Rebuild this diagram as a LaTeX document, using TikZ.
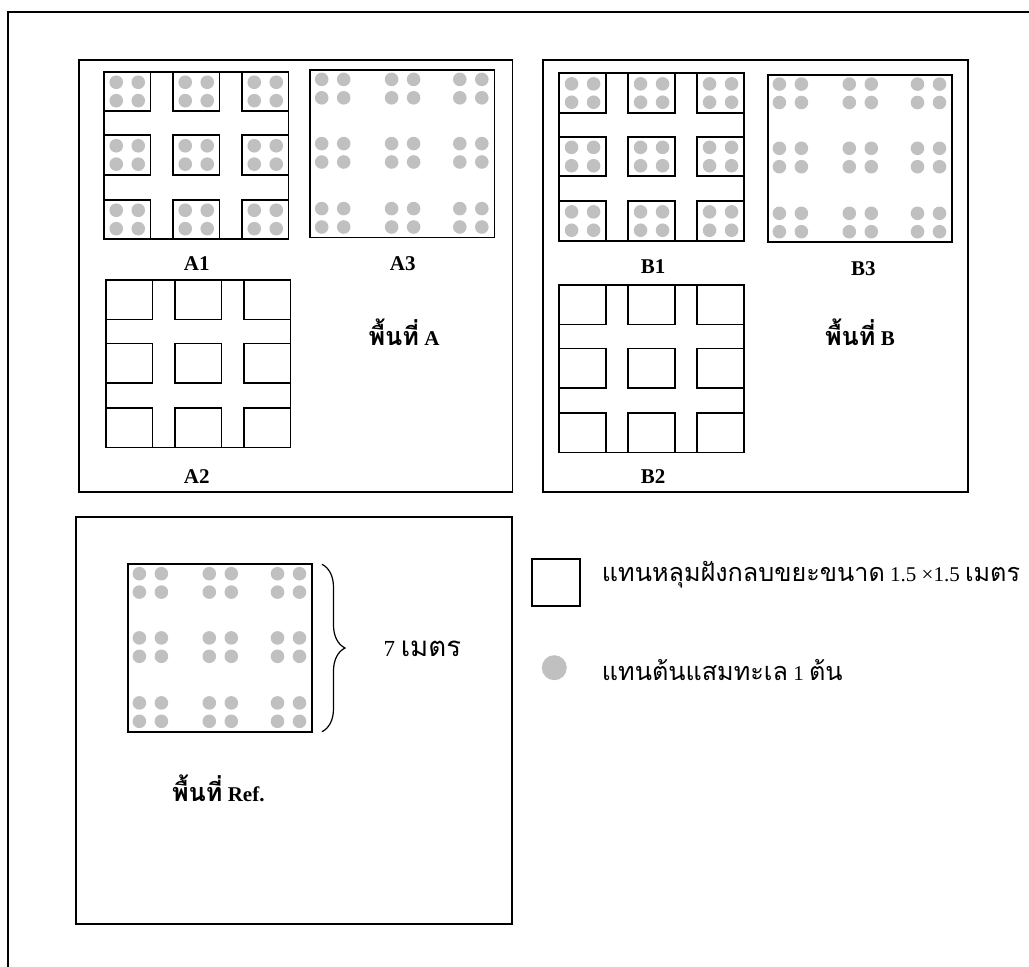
\documentclass[tikz,border=0pt]{standalone}
\usepackage{fontspec}
\setmainfont{Liberation Serif}
\newfontfamily\thaifont[Script=Thai,Scale=1.2]{Loma}
\usetikzlibrary{decorations.pathreplacing}
\definecolor{dotgray}{RGB}{192,192,192}
\tikzset{
  frame/.style={draw=black, line width=1.7pt},
  pit/.style={draw=black, line width=1.9pt},
  tree/.style={fill=dotgray},
  lbl/.style={font=\fontsize{21}{25}\selectfont\bfseries, anchor=base, inner sep=0pt},
  thailbl/.style={font=\fontsize{21}{25}\selectfont, anchor=base west, inner sep=0pt},
}
\newcommand\treequad[2]{%
  \foreach \dx in {-11,11}{\foreach \dy in {-9.2,9.2}{%
    \fill[tree] ({#1+(\dx)},{-(#2)-(\dy)}) circle (6.8);}}}
\newcommand\pitgrid[3]{% x0, y0, with trees (1/0)
  \draw[pit] (#1,-#2) rectangle ++(184.5,-167.5);
  \foreach \cx in {0,69,138}{\foreach \cy in {0,63.5,128}{%
    \draw[pit,fill=white] ({#1+\cx},{-(#2)-\cy}) rectangle ++(46.5,-39.5);
    \ifnum#3=1 \treequad{#1+\cx+23.25}{#2+\cy+19.75}\fi
  }}}
\newcommand\treegrid[2]{% x0, y0
  \draw[pit] (#1,-#2) rectangle ++(184.5,-167.5);
  \foreach \gx in {22.7,92.6,160.8}{\foreach \gy in {18.6,82.8,147.8}{%
    \treequad{#1+\gx}{#2+\gy}}}}
\begin{document}
\begin{tikzpicture}[x=1pt,y=1pt]
\useasboundingbox (0,0) rectangle (1029,-967);
% outer frame (cropped)
\draw[frame] (8,-967) -- (8,-12) -- (1029,-12);
% area boxes
\draw[frame] (79.3,-60) rectangle (512.5,-492.3);
\draw[frame] (543.3,-60) rectangle (968.3,-492.3);
\draw[frame] (75.7,-516.7) rectangle (512.3,-924.3);
% plots
\pitgrid{104}{71.7}{1}
\pitgrid{106}{280}{0}
\treegrid{310}{70}
\pitgrid{559.3}{73.3}{1}
\pitgrid{559.3}{285}{0}
\treegrid{767.7}{74.7}
\treegrid{127.7}{564.3}
% labels
\node[lbl] (lA1) at (196.7,-270) {A1};
\node[lbl] (lA3) at (402.7,-270) {A3};
\node[lbl] (lA2) at (196.7,-483) {A2};
\node[lbl] (lAreaA) at (404,-345.7) {{\thaifont พื้นที่} A};
\node[lbl] (lB1) at (653,-273.3) {B1};
\node[lbl] (lB3) at (863.3,-275.7) {B3};
\node[lbl] (lB2) at (653,-483) {B2};
\node[lbl] (lAreaB) at (860,-345) {{\thaifont พื้นที่} B};
\node[lbl] (lRef) at (218.3,-801.7) {{\thaifont พื้นที่} Ref.};
% brace
\coordinate (brT) at (322,-564.3);
\coordinate (brB) at (322,-731.7);
\draw[line width=1.2pt, decorate, decoration={brace, amplitude=23pt}] (brT) -- (brB);
\node[thailbl, font=\fontsize{23}{27}\selectfont] (seven) at (383.3,-656.7) {7 {\thaifont เมตร}};
% legend
\node[pit, minimum size=47.5pt, inner sep=0pt] (legpit) at (555.9,-582.5) {};
\node[circle, fill=dotgray, minimum size=25pt, inner sep=0pt] (legtree) at (554.3,-667.7) {};
\node[thailbl] (legpittxt) at (601.7,-581.7) {{\thaifont แทนหลุมฝังกลบขยะขนาด} 1.5 ×1.5 {\thaifont เมตร}};
\node[thailbl] (legtreetxt) at (601.7,-680) {{\thaifont แทนต้นแสมทะเล} 1 {\thaifont ต้น}};
\end{tikzpicture}
\end{document}
